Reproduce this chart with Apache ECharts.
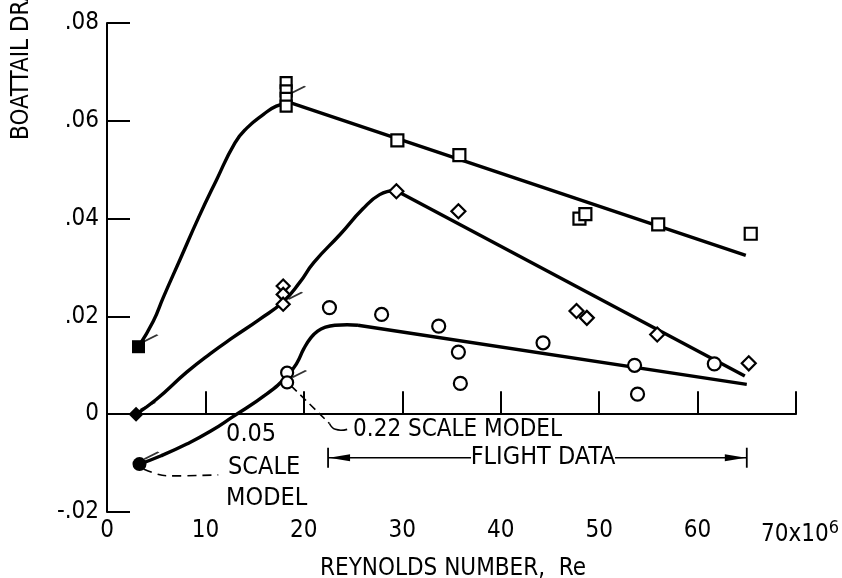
<!DOCTYPE html>
<html>
<head>
<meta charset="utf-8">
<script src="https://cdn.jsdelivr.net/npm/echarts@6/dist/echarts.min.js"></script>
<style>
  html, body { margin: 0; padding: 0; background: #fff; }
  #chart { width: 842px; height: 578px; }
</style>
</head>
<body>
<div id="chart"></div>
<script>
// Tick labels
const xTickLabels = ['0', '10', '20', '30', '40', '50', '60', '70x10'];
const yTickLabels = ['-.02', '0', '.02', '.04', '.06', '.08'];

// Square symbols: 0.05 scale model, 0.22 scale model, flight
const squareModel005 = [[3.2, 0.0138]];
const squareModel022 = [[18.2, 0.0678], [18.2, 0.0661], [18.2, 0.0646], [18.2, 0.0630]];
const squareFlight = [[29.5, 0.0560], [35.8, 0.0530], [48.0, 0.0400], [48.6, 0.0409], [56.0, 0.0388], [65.4, 0.0369]];

// Diamond symbols
const diamondModel005 = [[2.95, 0.0]];
const diamondModel022 = [[17.9, 0.0262], [17.9, 0.0245], [17.9, 0.0225]];
const diamondFlight = [[29.4, 0.0456], [35.7, 0.0415], [47.7, 0.0211], [48.75, 0.0197], [55.9, 0.0163], [65.2, 0.0104]];

// Circle symbols
const circleModel005 = [[3.3, -0.0102]];
const circleModel022 = [[18.3, 0.0085], [18.3, 0.0065]];
const circleFlight = [[22.6, 0.0218], [27.9, 0.0204], [33.7, 0.0180], [35.7, 0.0127], [35.9, 0.0063],
  [44.3, 0.0146], [53.6, 0.0100], [53.9, 0.0041], [61.7, 0.0103]];

// Faired curves
const squareFitRise = [[3.2, 0.0138], [4.7, 0.0190], [5.7, 0.0238], [7.5, 0.0320], [9.3, 0.0402], [11.1, 0.0478],
  [13.0, 0.0555], [14.2, 0.0585], [15.9, 0.0613], [17.2, 0.0630], [18.6, 0.0637]];
const squareFitFall = [[18.6, 0.0637], [64.9, 0.0325]];
const diamondFitRise = [[2.95, 0.0], [5.0, 0.0030], [8.1, 0.0086], [10.5, 0.0124], [12.8, 0.0157], [15.5, 0.0194],
  [17.9, 0.0230], [19.6, 0.0270], [21.0, 0.0310], [23.7, 0.0368], [26.0, 0.0420], [27.7, 0.0449], [29.3, 0.0458]];
const diamondFitFall = [[29.3, 0.0458], [64.8, 0.0078]];
const circleFitRise = [[3.3, -0.0102], [5.5, -0.0085], [8.1, -0.0061], [10.5, -0.0035], [12.8, -0.0005],
  [16.2, 0.0041], [18.3, 0.0078], [19.3, 0.0105], [20.0, 0.0134], [20.7, 0.0156], [21.4, 0.0170],
  [22.2, 0.0178], [23.2, 0.0182], [24.4, 0.0183], [25.5, 0.0182]];
const circleFitFall = [[25.5, 0.0182], [65.0, 0.0061]];

// Points carrying a wind-tunnel flag
const flagged = [squareModel005[0], diamondModel005[0], circleModel005[0],
  squareModel022[2], diamondModel022[2], circleModel022[1]];

const FONT = '"DejaVu Sans Condensed", "Liberation Sans Narrow", "DejaVu Sans", sans-serif';
const TICK_FONT = '"Liberation Sans Narrow", "DejaVu Sans Condensed", sans-serif';
const INK = '#000';

const chart = echarts.init(document.getElementById('chart'), null, { renderer: 'canvas' });

function curve(data, smooth) {
  return {
    type: 'line', data: data, symbol: 'none', smooth: smooth ? 0.5 : false,
    lineStyle: { color: INK, width: 3.4 }, silent: true, z: 2
  };
}
function marks(data, symbol, size, filled) {
  return {
    type: 'scatter', data: data, symbol: symbol, symbolSize: size, silent: true, z: 3,
    itemStyle: { color: filled ? INK : '#fff', borderColor: INK, borderWidth: filled ? 0 : 2.2, opacity: 1 }
  };
}

const option = {
  animation: false,
  backgroundColor: '#fff',
  grid: { left: 107, right: 46, top: 23, bottom: 66, containLabel: false, outerBoundsMode: 'none' },
  xAxis: {
    type: 'value', min: 0, max: 70, interval: 10,
    axisLine: { show: true, lineStyle: { color: INK, width: 2 } },
    axisTick: { show: true, inside: true, length: 23, lineStyle: { color: INK, width: 2 } },
    splitLine: { show: false },
    axisLabel: {
      margin: 7, color: INK, fontFamily: TICK_FONT, fontSize: 24,
      formatter: function (v) {
        const i = Math.round(v / 10);
        if (i === xTickLabels.length - 1) return '{a|' + xTickLabels[i] + '}{s|6}';
        return xTickLabels[i];
      },
      rich: {
        a: { fontFamily: TICK_FONT, fontSize: 24, color: INK, padding: [0, 0, 0, 8] },
        s: { fontFamily: TICK_FONT, fontSize: 18, color: INK, verticalAlign: 'bottom', padding: [0, 0, 13, 0] }
      }
    }
  },
  yAxis: {
    type: 'value', min: -0.02, max: 0.08, interval: 0.02,
    axisLine: { show: true, lineStyle: { color: INK, width: 2 } },
    axisTick: { show: true, inside: true, length: 23, lineStyle: { color: INK, width: 2 } },
    splitLine: { show: false },
    axisLabel: {
      margin: 8, color: INK, fontFamily: TICK_FONT, fontSize: 24,
      formatter: function (v) { return yTickLabels[Math.round((v + 0.02) / 0.02)]; }
    }
  },
  series: [
    Object.assign(curve(squareFitRise, true), {
      markLine: {
        silent: true, symbol: 'none', label: { show: false },
        lineStyle: { color: INK, width: 1.6, type: 'solid' },
        data: [{ yAxis: 0 }]
      }
    }),
    curve(squareFitFall, false),
    curve(diamondFitRise, true),
    curve(diamondFitFall, false),
    curve(circleFitRise, true),
    curve(circleFitFall, false),
    marks(squareModel005, 'rect', 13, true),
    marks(squareModel022, 'rect', 11, false),
    marks(squareFlight, 'rect', 12, false),
    marks(diamondModel005, 'diamond', 15, true),
    marks(diamondModel022, 'diamond', 13, false),
    marks(diamondFlight, 'diamond', 14, false),
    marks(circleModel005, 'circle', 14, true),
    marks(circleModel022, 'circle', 12, false),
    marks(circleFlight, 'circle', 13, false),
    {
      type: 'scatter', data: flagged, silent: true, z: 4,
      symbol: 'path://M0,7 L14,0', symbolSize: [14, 7], symbolOffset: [12, -8.5],
      itemStyle: { color: 'none', borderColor: INK, borderWidth: 2 }
    }
  ]
};
chart.setOption(option);

// Annotations placed in data coordinates
const px = (x, y) => chart.convertToPixel({ gridIndex: 0 }, [x, y]);
const textStyle = (t, size) => ({ text: t, fill: INK, font: size + 'px ' + FONT });

const g = [];
// vertical axis title
g.push({
  type: 'text', x: 22, y: 140, rotation: Math.PI / 2,
  style: Object.assign(textStyle('BOATTAIL DRAG', 24), { textAlign: 'left', textVerticalAlign: 'middle' })
});
// horizontal axis title
g.push({
  type: 'text', x: 453, y: 569,
  style: Object.assign(textStyle('REYNOLDS NUMBER,  Re', 24), { textAlign: 'center', textVerticalAlign: 'middle' })
});

// 0.05 scale model label and leader
const l1 = px(12.1, -0.0042), l2 = px(12.3, -0.0108), l3 = px(12.1, -0.0172);
g.push({ type: 'text', x: l1[0], y: l1[1], style: Object.assign(textStyle('0.05', 25), { textAlign: 'left', textVerticalAlign: 'middle' }) });
g.push({ type: 'text', x: l2[0], y: l2[1], style: Object.assign(textStyle('SCALE', 25), { textAlign: 'left', textVerticalAlign: 'middle' }) });
g.push({ type: 'text', x: l3[0], y: l3[1], style: Object.assign(textStyle('MODEL', 25), { textAlign: 'left', textVerticalAlign: 'middle' }) });
g.push({
  type: 'polyline', silent: true,
  shape: { points: [px(3.7, -0.0112), px(5.0, -0.0122), px(6.1, -0.0126), px(11.3, -0.0124)], smooth: 0.4 },
  style: { stroke: INK, lineWidth: 1.6, lineDash: [9, 6], fill: null }
});

// 0.22 scale model label and leader
g.push({
  type: 'polyline', silent: true,
  shape: { points: [px(18.7, 0.0058), px(22.6, -0.0019)] },
  style: { stroke: INK, lineWidth: 1.6, lineDash: [8, 5], fill: null }
});
g.push({
  type: 'polyline', silent: true,
  shape: { points: [px(22.6, -0.0019), px(23.2, -0.0031), px(24.4, -0.0031)], smooth: 0.5 },
  style: { stroke: INK, lineWidth: 1.6, fill: null }
});
const m1 = px(25.0, -0.0031);
g.push({ type: 'text', x: m1[0], y: m1[1], style: Object.assign(textStyle('0.22 SCALE MODEL', 24), { textAlign: 'left', textVerticalAlign: 'middle' }) });

// Flight data range arrow
const fL = px(22.46, -0.0089), fR = px(65.0, -0.0089), fC = px(44.3, -0.0089);
const y0 = fL[1];
g.push({ type: 'text', x: fC[0], y: y0, style: Object.assign(textStyle('FLIGHT DATA', 25), { textAlign: 'center', textVerticalAlign: 'middle' }) });
g.push({ type: 'line', silent: true, shape: { x1: fL[0], y1: y0, x2: fC[0] - 72, y2: y0 }, style: { stroke: INK, lineWidth: 1.4 } });
g.push({ type: 'line', silent: true, shape: { x1: fC[0] + 72, y1: y0, x2: fR[0], y2: y0 }, style: { stroke: INK, lineWidth: 1.4 } });
g.push({ type: 'line', silent: true, shape: { x1: fL[0], y1: y0 - 10, x2: fL[0], y2: y0 + 10 }, style: { stroke: INK, lineWidth: 1.8 } });
g.push({ type: 'line', silent: true, shape: { x1: fR[0], y1: y0 - 10, x2: fR[0], y2: y0 + 10 }, style: { stroke: INK, lineWidth: 1.8 } });
g.push({ type: 'polygon', silent: true, shape: { points: [[fL[0] + 1, y0], [fL[0] + 22, y0 - 3.5], [fL[0] + 22, y0 + 3.5]] }, style: { fill: INK } });
g.push({ type: 'polygon', silent: true, shape: { points: [[fR[0] - 1, y0], [fR[0] - 22, y0 - 3.5], [fR[0] - 22, y0 + 3.5]] }, style: { fill: INK } });

chart.setOption({ graphic: g });
</script>
</body>
</html>
